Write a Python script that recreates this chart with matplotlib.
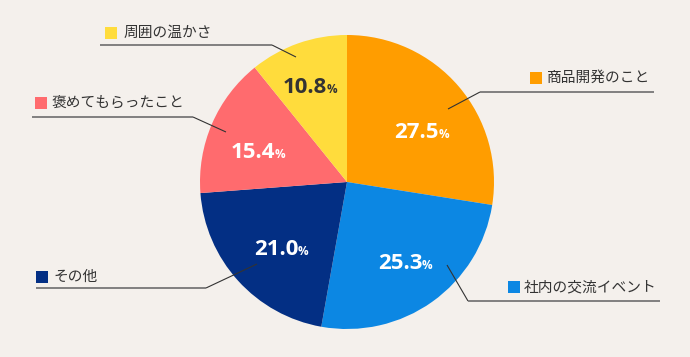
import matplotlib
matplotlib.use('Agg')
import matplotlib.pyplot as plt
from matplotlib.patches import Rectangle
import numpy as np

plt.rcParams['font.family'] = ['Noto Sans CJK JP', 'DejaVu Sans']

# data
labels = ['商品開発のこと', '社内の交流イベント', 'その他', '褒めてもらったこと', '周囲の温かさ']
values = [27.5, 25.3, 21.0, 15.4, 10.8]
colors = ['#FF9D00', '#0C87E3', '#032F84', '#FF6B6E', '#FFDC3C']
pct_colors = ['white', 'white', 'white', 'white', '#333333']

# layout (pixel coords, y from top)
W, H = 690, 357
cx, cy, rad = 347, 182, 147
# value label placement: angle shift (deg) and radius fraction
pct_shift = [-5.8, 0.8, 2.5, 3.4, 1.5]
pct_r = [0.62, 0.67, 0.63, 0.64, 0.71]
# leader: start, elbow, end
leaders = [
    [(448, 109), (480, 92), (654, 92)],
    [(447, 265), (468, 301), (660, 301)],
    [(257, 264), (206, 288), (36, 288)],
    [(226, 132), (193, 117), (32, 117)],
    [(296, 57), (272, 45), (100, 45)],
]
# label square left x, text left x, centre y
label_pos = [(530, 547, 78), (508, 524, 287), (36, 53, 277), (35, 51, 103), (105, 124, 33)]

bg = '#F4F0EC'
fig = plt.figure(figsize=(6.9, 3.57), dpi=100, facecolor=bg)
ax = fig.add_axes([0, 0, 1, 1])
ax.set_facecolor(bg)

def Y(y):
    return H - y

wedges, _ = ax.pie(values, colors=colors, startangle=90, counterclock=False,
                   center=(cx, Y(cy)), radius=rad, frame=True)
ax.set_xlim(0, W)
ax.set_ylim(0, H)
ax.axis('off')

num_font = ['Open Sans', 'DejaVu Sans']
for i, w in enumerate(wedges):
    ang = np.deg2rad((w.theta1 + w.theta2) / 2 + pct_shift[i])
    r = rad * pct_r[i]
    x = cx + r * np.cos(ang)
    y = Y(cy) + r * np.sin(ang)
    ax.text(x + 17, y - 8, f'{values[i]:.1f}', ha='right', va='baseline', color=pct_colors[i],
            fontsize=16, fontweight='bold', family=num_font)
    ax.text(x + 16.5, y - 8, '%', ha='left', va='baseline', color=pct_colors[i],
            fontsize=8.5, fontweight='bold', family=num_font)

for i, pts in enumerate(leaders):
    (x0, y0), (x1, y1), (x2, y2) = pts
    ax.plot([x0, x1], [Y(y0), Y(y1)], color='#333333', lw=0.8, solid_capstyle='butt')
    ax.plot([x1, x2], [Y(y1), Y(y2)], color='#777777', lw=1.3, solid_capstyle='butt')
    sx, tx, ty = label_pos[i]
    ax.add_patch(Rectangle((sx, Y(ty) - 6), 12, 12, color=colors[i], lw=0))
    ax.text(tx, Y(ty), labels[i], ha='left', va='center', color='#333333', fontsize=10.6)

fig.savefig('out.png', dpi=100, facecolor=bg)
